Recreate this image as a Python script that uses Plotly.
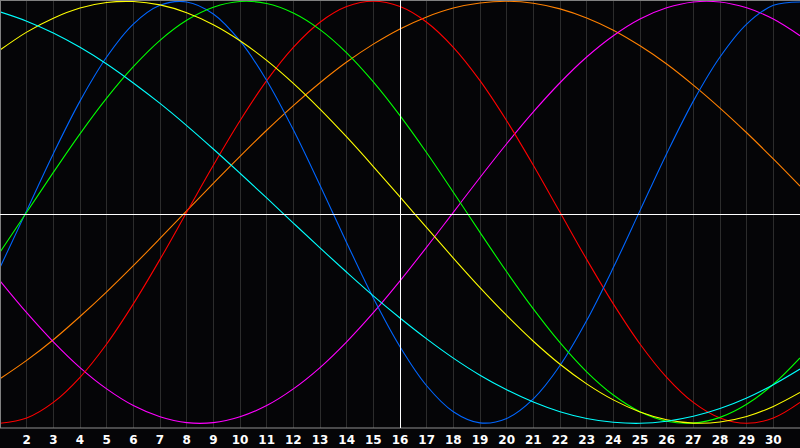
import plotly.graph_objects as go

days = list(range(1, 32))
tick_days = list(range(2, 31))
tick_labels = [str(d) for d in tick_days]
today = 16

blue = [-0.262, 0.008, 0.278, 0.527, 0.736, 0.892, 0.981, 0.997, 0.940, 0.812, 0.625,
        0.391, 0.128, -0.144, -0.406, -0.637, -0.822, -0.945, -0.998, -0.977, -0.884,
        -0.726, -0.513, -0.262, 0.008, 0.278, 0.527, 0.736, 0.892, 0.981, 0.997]
red = [-1.0, -0.975, -0.901, -0.782, -0.624, -0.434, -0.223, 0.0, 0.223, 0.434, 0.624,
       0.782, 0.901, 0.975, 1.0, 0.975, 0.901, 0.782, 0.624, 0.434, 0.223,
       0.0, -0.223, -0.434, -0.624, -0.782, -0.901, -0.975, -1.0, -0.975, -0.901]
green = [-0.189, 0.0, 0.189, 0.372, 0.541, 0.690, 0.815, 0.910, 0.972, 0.999, 0.990,
         0.945, 0.866, 0.756, 0.618, 0.458, 0.282, 0.095, -0.095, -0.282, -0.458,
         -0.618, -0.756, -0.866, -0.945, -0.990, -0.999, -0.972, -0.910, -0.815, -0.690]
yellow = [0.769, 0.854, 0.920, 0.968, 0.994, 0.999, 0.983, 0.946, 0.889, 0.813, 0.720,
          0.611, 0.489, 0.357, 0.217, 0.073, -0.073, -0.217, -0.357, -0.489, -0.611,
          -0.720, -0.813, -0.889, -0.946, -0.983, -0.999, -0.994, -0.968, -0.920, -0.854]
cyan = [0.950, 0.906, 0.850, 0.782, 0.703, 0.613, 0.516, 0.411, 0.300, 0.185, 0.068,
        -0.051, -0.169, -0.284, -0.396, -0.501, -0.600, -0.691, -0.772, -0.841, -0.899,
        -0.945, -0.977, -0.995, -1.000, -0.990, -0.967, -0.930, -0.880, -0.817, -0.743]
orange = [-0.789, -0.702, -0.604, -0.494, -0.377, -0.253, -0.124, 0.007, 0.137, 0.265, 0.389,
          0.506, 0.614, 0.712, 0.797, 0.869, 0.926, 0.968, 0.992, 1.000, 0.991,
          0.964, 0.921, 0.863, 0.789, 0.703, 0.603, 0.494, 0.377, 0.253, 0.124]
magenta = [-0.325, -0.476, -0.614, -0.736, -0.837, -0.916, -0.969, -0.997, -0.997, -0.969, -0.916,
           -0.837, -0.736, -0.614, -0.476, -0.325, -0.165, 0.0, 0.165, 0.325, 0.476,
           0.614, 0.736, 0.837, 0.916, 0.969, 0.997, 0.997, 0.969, 0.916, 0.837]

series = [
    ("orange", orange, "#ff8000"),
    ("magenta", magenta, "#ff00ff"),
    ("red", red, "#ff0000"),
    ("blue", blue, "#0066ff"),
    ("green", green, "#00ff00"),
    ("yellow", yellow, "#ffff00"),
    ("cyan", cyan, "#00ffff"),
]

fig = go.Figure()
for name, vals, col in series:
    fig.add_trace(go.Scatter(x=days, y=vals, mode="lines", name=name,
                             line=dict(color=col, width=1.1, shape="spline"),
                             hoverinfo="skip"))

fig.update_layout(
    width=800, height=448,
    margin=dict(l=0, r=0, t=0, b=20, pad=0),
    paper_bgcolor="#050507",
    plot_bgcolor="#050507",
    showlegend=False,
    xaxis=dict(range=[1, 31], tickvals=tick_days, ticktext=tick_labels,
               showgrid=True, gridcolor="#2c2c2c", gridwidth=1,
               zeroline=False, showline=False, ticks="", ticklabelstandoff=3,
               tickfont=dict(family="DejaVu Sans", size=12, color="#ffffff", weight="bold")),
    yaxis=dict(range=[-1.0223, 1.0062], showgrid=False, zeroline=False,
               showticklabels=False, showline=False),
)

# frame and reference lines (offset half a pixel so they render crisp)
fig.add_shape(type="line", xref="paper", yref="paper", x0=0, x1=1, y0=1, y1=1,
              line=dict(color="#808080", width=2))
fig.add_shape(type="line", xref="paper", yref="paper", x0=0, x1=0, y0=0, y1=1,
              line=dict(color="#808080", width=2))
fig.add_shape(type="line", xref="paper", yref="paper", x0=0, x1=1, y0=0, y1=0,
              line=dict(color="#909090", width=1))
fig.add_shape(type="line", xref="x", yref="paper", x0=today + 0.0187, x1=today + 0.0187,
              y0=0, y1=1, line=dict(color="#ffffff", width=1))
fig.add_shape(type="line", xref="paper", yref="y", x0=0, x1=1, y0=-0.0104, y1=-0.0104,
              line=dict(color="#ffffff", width=1))

fig.write_html(
    "out.html",
    config={"displayModeBar": False, "staticPlot": True},
    post_script="document.body.style.margin='0';document.body.style.overflow='hidden';"
                "document.body.style.background='#050507';",
)
